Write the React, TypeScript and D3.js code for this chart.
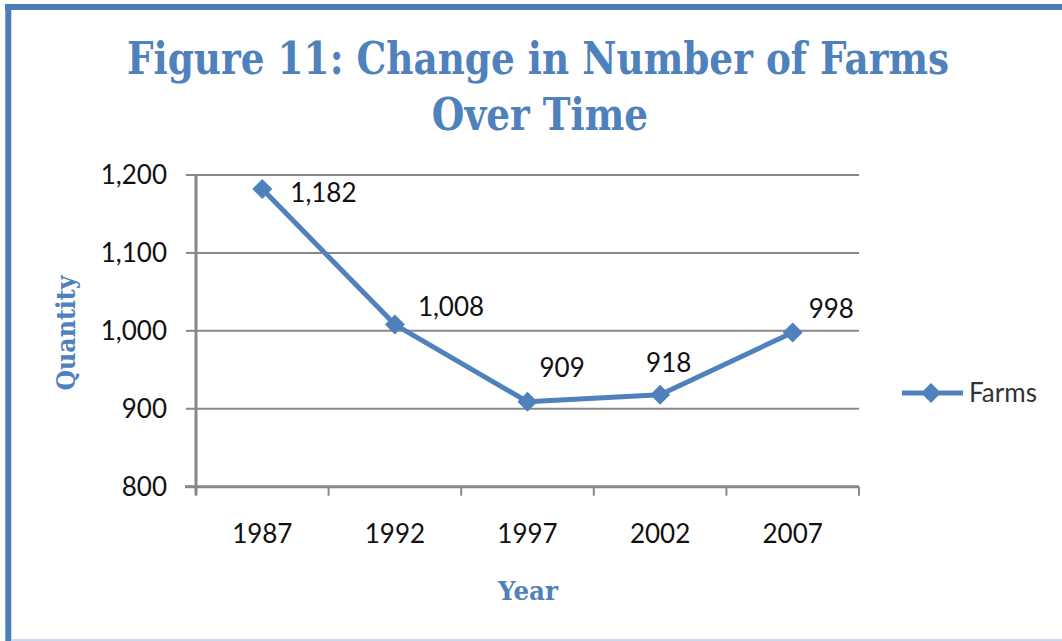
import React, { useLayoutEffect, useRef, useState } from "react";
import * as d3 from "d3";

const years = ["1987", "1992", "1997", "2002", "2007"];
const farms = [1182, 1008, 909, 918, 998];
const yTicks = [800, 900, 1000, 1100, 1200];
const titleLines = ["Figure 11: Change in Number of Farms", "Over Time"];
// label nudges relative to each point (style only)
const labelDx = [28, 23, 12, -14, 16];
const labelDy = [13, -9, -25, -23, -14];

const W = 1062;
const H = 641;
const BLUE = "#4A7EBB";
const LINE = "#4F81BD";
const GRID = "#888888";

export default function App() {
  const x = d3.scaleBand<string>().domain(years).range([196, 859]).padding(0);
  const y = d3.scaleLinear().domain([800, 1200]).range([486.7, 175]);
  const cx = (d: string) => (x(d) as number) + x.bandwidth() / 2;
  const pts: [number, number][] = years.map((yr, i) => [cx(yr), y(farms[i])]);
  const line = d3.line<[number, number]>();
  const fmt = d3.format(",");
  const sansFont = "Lato, 'Noto Sans', sans-serif";
  const serifFont = "'DejaVu Serif', 'Liberation Serif', serif";
  const diamond = (px: number, py: number, r: number) =>
    `M${px},${py - r}L${px + r},${py}L${px},${py + r}L${px - r},${py}Z`;
  const boundaries = [...years.map((d) => x(d) as number), 859];

  const titleRef = useRef<SVGTextElement>(null);
  const [sx, setSx] = useState(0.75);
  useLayoutEffect(() => {
    if (titleRef.current) {
      const w = titleRef.current.getComputedTextLength();
      if (w > 0) setSx(822 / w);
    }
  }, []);

  return (
    <div style={{ position: "fixed", left: 0, top: 0 }}>
      <svg width={W} height={H} style={{ display: "block", background: "#fff" }}>
        {/* frame */}
        <line x1={8.3} y1={4} x2={8.3} y2={641} stroke={BLUE} strokeWidth={6} />
        <line x1={5} y1={7} x2={1062} y2={7} stroke={BLUE} strokeWidth={6} />
        <line x1={11} y1={640} x2={1062} y2={640} stroke="#C6D9F0" strokeWidth={2} />

        {/* title */}
        <g transform={`translate(538,74) scale(${sx},1)`}>
          <text
            ref={titleRef}
            x={0}
            y={0}
            textAnchor="middle"
            fontFamily={serifFont}
            fontWeight="bold"
            fontSize={44}
            fill={LINE}
          >
            {titleLines[0]}
          </text>
          <text
            x={2 / sx}
            y={56}
            textAnchor="middle"
            fontFamily={serifFont}
            fontWeight="bold"
            fontSize={44}
            fill={LINE}
          >
            {titleLines[1]}
          </text>
        </g>

        {/* gridlines */}
        {yTicks.filter((t) => t > 800).map((t) => (
          <line key={t} x1={196} x2={859} y1={y(t)} y2={y(t)} stroke={GRID} strokeWidth={2} />
        ))}
        {/* y axis */}
        <line x1={196} x2={196} y1={175} y2={495} stroke={GRID} strokeWidth={3} />
        {yTicks.map((t) => (
          <g key={t}>
            <line x1={186} x2={196} y1={y(t)} y2={y(t)} stroke={GRID} strokeWidth={2} />
            <text
              x={167}
              y={y(t)}
              dy="0.36em"
              textAnchor="end"
              fontFamily={sansFont}
              fontSize={26}
              fill="#111"
            >
              {fmt(t)}
            </text>
          </g>
        ))}
        {/* x axis */}
        <line x1={185} x2={859} y1={y(800)} y2={y(800)} stroke={GRID} strokeWidth={3} />
        {boundaries.map((b, i) => (
          <line key={i} x1={b} x2={b} y1={y(800)} y2={y(800) + 9} stroke={GRID} strokeWidth={2} />
        ))}
        {years.map((yr) => (
          <text
            key={yr}
            x={cx(yr)}
            y={543}
            textAnchor="middle"
            fontFamily={sansFont}
            fontSize={26}
            fill="#111"
          >
            {yr}
          </text>
        ))}

        {/* axis titles */}
        <text
          transform={`translate(75,333) rotate(-90)`}
          textAnchor="middle"
          fontFamily={serifFont}
          fontWeight="bold"
          fontSize={26}
          fill={LINE}
          textLength={115}
          lengthAdjust="spacingAndGlyphs"
        >
          Quantity
        </text>
        <text
          x={528}
          y={600}
          textAnchor="middle"
          fontFamily={serifFont}
          fontWeight="bold"
          fontSize={26}
          fill={LINE}
          textLength={60}
          lengthAdjust="spacingAndGlyphs"
        >
          Year
        </text>

        {/* series */}
        <path d={line(pts) || ""} fill="none" stroke={LINE} strokeWidth={5} strokeLinejoin="round" />
        {pts.map(([px, py], i) => (
          <path key={i} d={diamond(px, py, 10)} fill={LINE} />
        ))}
        {pts.map(([px, py], i) => (
          <text
            key={"l" + i}
            x={px + labelDx[i]}
            y={py + labelDy[i]}
            fontFamily={sansFont}
            fontSize={26}
            fill="#111"
          >
            {fmt(farms[i])}
          </text>
        ))}

        {/* legend */}
        <line x1={902} x2={963} y1={393} y2={393} stroke={LINE} strokeWidth={5} />
        <path d={diamond(931, 393, 10)} fill={LINE} />
        <text x={969} y={402} fontFamily={sansFont} fontSize={26} fill="#333">
          Farms
        </text>
      </svg>
    </div>
  );
}
